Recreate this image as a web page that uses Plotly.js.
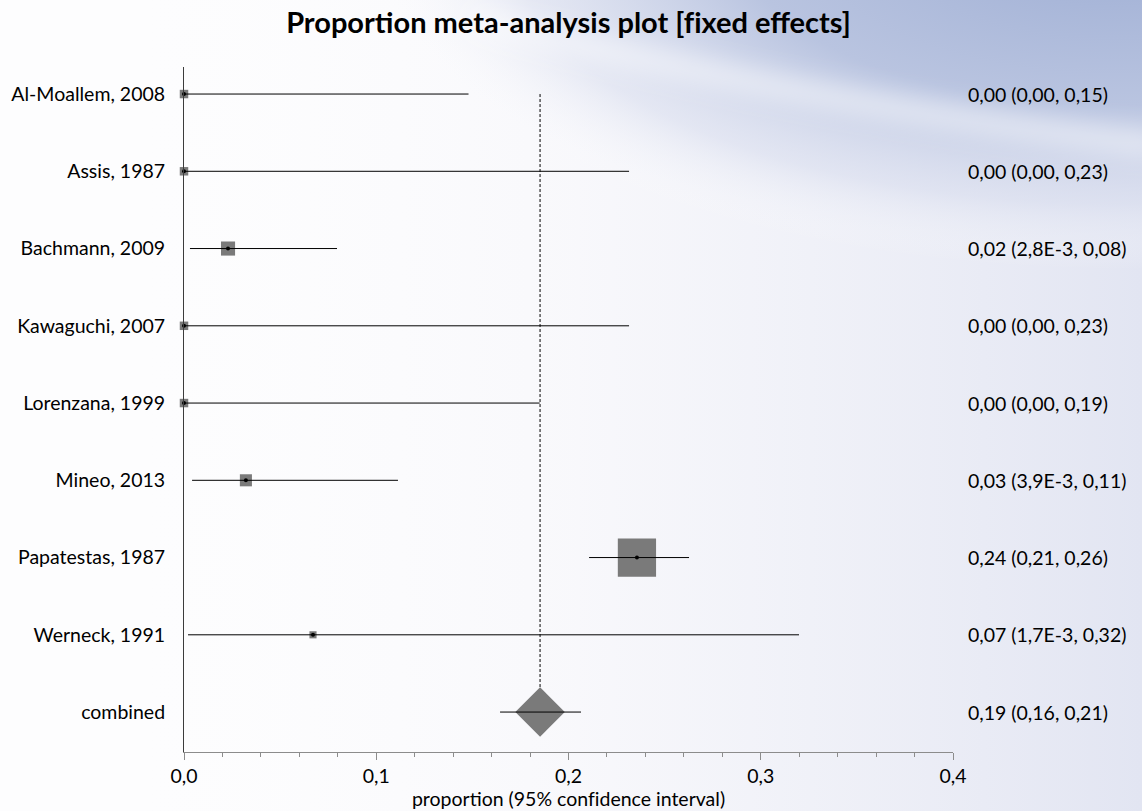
<!DOCTYPE html>
<html>
<head>
<meta charset="utf-8">
<script src="https://cdn.plot.ly/plotly-3.0.1.min.js"></script>
<style>html,body{margin:0;padding:0;background:#fff;}#chart{width:1142px;height:811px;}</style>
</head>
<body>
<div id="chart"></div>
<script>
// ---- data ----
const studies = ["Al-Moallem, 2008", "Assis, 1987", "Bachmann, 2009", "Kawaguchi, 2007",
  "Lorenzana, 1999", "Mineo, 2013", "Papatestas, 1987", "Werneck, 1991"];
const estimates = [0.0, 0.0, 0.0229, 0.0, 0.0, 0.0322, 0.2356, 0.0671];
const lower = [0.0, 0.0, 0.0031, 0.0, 0.0, 0.0042, 0.2107, 0.0021];
const upper = [0.148, 0.2315, 0.0796, 0.2315, 0.185, 0.1113, 0.2627, 0.3199];
const weights = [3.4, 3.4, 9.4, 3.4, 3.4, 6.9, 69.1, 2.4];   // relative study weights (%)
const ciLabels = ["0,00 (0,00, 0,15)", "0,00 (0,00, 0,23)", "0,02 (2,8E-3, 0,08)", "0,00 (0,00, 0,23)",
  "0,00 (0,00, 0,19)", "0,03 (3,9E-3, 0,11)", "0,24 (0,21, 0,26)", "0,07 (1,7E-3, 0,32)"];
const combinedLabel = "combined";
const combinedEst = 0.1852;
const combinedLower = 0.1644;
const combinedUpper = 0.2065;
const combinedText = "0,19 (0,16, 0,21)";
const xTicks = [0, 0.1, 0.2, 0.3, 0.4];

// ---- build ----
const n = studies.length;
const rows = studies.map((_, i) => i);
const combRow = n;
const allLabels = studies.concat([combinedLabel]);
const allRows = rows.concat([combRow]);
const allText = ciLabels.concat([combinedText]);

const FONT = "Lato, 'Open Sans', sans-serif";
const GRAY = "#7a7a7a";
const FS = 19.5;
const ZWNJ = "\u200C"; // break f-i ligatures

const boxSizes = weights.map(w => 4.6 * Math.sqrt(w));

const traces = [
  { x: [combinedEst, combinedEst], y: [0, combRow], mode: "lines", type: "scatter",
    line: { color: "#000", width: 1, dash: "3px,2px" }, hoverinfo: "skip", showlegend: false },
  { x: estimates, y: rows, mode: "markers", type: "scatter", cliponaxis: false,
    marker: { symbol: "square", size: boxSizes, color: GRAY, opacity: 1, line: { width: 0 } },
    hoverinfo: "skip", showlegend: false },
  { x: [combinedEst], y: [combRow], mode: "markers", type: "scatter", cliponaxis: false,
    marker: { symbol: "diamond", size: 38, color: GRAY, opacity: 1, line: { width: 0 } },
    hoverinfo: "skip", showlegend: false },
  { x: estimates, y: rows, mode: "markers", type: "scatter", cliponaxis: false,
    marker: { symbol: "circle", size: 4, color: "#000", opacity: 1 },
    error_x: { type: "data", symmetric: false,
      array: upper.map((u, i) => u - estimates[i]),
      arrayminus: lower.map((l, i) => estimates[i] - l),
      width: 0, thickness: 1, color: "#000" },
    hoverinfo: "skip", showlegend: false },
  { x: [combinedEst], y: [combRow], mode: "markers", type: "scatter",
    marker: { size: 0.1, color: "rgba(0,0,0,0)" },
    error_x: { type: "data", symmetric: false,
      array: [combinedUpper - combinedEst], arrayminus: [combinedEst - combinedLower],
      width: 0, thickness: 1, color: "#000" },
    hoverinfo: "skip", showlegend: false }
];

const annotations = allText.map((t, i) => ({
  xref: "paper", yref: "y", x: 1.017, y: allRows[i], text: t,
  showarrow: false, xanchor: "left", yanchor: "middle",
  font: { family: FONT, size: FS, color: "#000" }
}));

const bgSvg = `<svg xmlns='http://www.w3.org/2000/svg' width='1142' height='811'>
<defs>
<linearGradient id='h' x1='0' y1='0' x2='1' y2='0'>
<stop offset='0' stop-color='#ffffff' stop-opacity='0'/>
<stop offset='0.5' stop-color='#f7f7fb' stop-opacity='0.8'/>
<stop offset='1' stop-color='#e2e5f2' stop-opacity='1'/>
</linearGradient>
<radialGradient id='t' cx='0.5' cy='0.5' r='0.5'>
<stop offset='0' stop-color='#9eaed4'/>
<stop offset='0.5' stop-color='#b9c4e0'/>
<stop offset='0.8' stop-color='#d8ddee' stop-opacity='0.6'/>
<stop offset='1' stop-color='#ffffff' stop-opacity='0'/>
</radialGradient>
<filter id='b' x='-20%' y='-50%' width='140%' height='200%'><feGaussianBlur stdDeviation='12'/></filter>
</defs>
<rect width='1142' height='811' fill='#fdfdfe'/>
<rect width='1142' height='811' fill='url(#h)'/>
<ellipse cx='1120' cy='-60' rx='760' ry='330' fill='url(#t)'/>
<path d='M 470 20 C 650 60, 850 110, 1160 145' stroke='#ffffff' stroke-opacity='0.55' stroke-width='22' fill='none' filter='url(#b)'/>
</svg>`;
const bgUri = "data:image/svg+xml;charset=utf-8," + encodeURIComponent(bgSvg);

const layout = {
  width: 1142, height: 811,
  margin: { l: 184, r: 189, t: 67, b: 59, pad: 0 },
  paper_bgcolor: "#ffffff", plot_bgcolor: "rgba(0,0,0,0)",
  separators: ", ",
  font: { family: FONT, size: FS, color: "#000" },
  showlegend: false,
  title: { text: "<b>Proportion meta-analysis plot [f" + ZWNJ + "ixed effects]</b>",
    font: { family: FONT, size: 29, color: "#000" },
    xref: "paper", x: 0.5, xanchor: "center", yref: "container", y: 0.972, yanchor: "middle" },
  xaxis: {
    range: [0, 0.4], tickvals: xTicks, tickformat: ".1f",
    ticks: "outside", ticklen: 7, tickcolor: "#8c8c8c", tickwidth: 1,
    minor: { dtick: 0.02, tick0: 0, ticks: "outside", ticklen: 4, tickcolor: "#8c8c8c", showgrid: false },
    showline: true, linecolor: "#8c8c8c", linewidth: 1,
    showgrid: false, zeroline: false,
    tickfont: { family: FONT, size: FS, color: "#000" },
    title: { text: "proportion (95% conf" + ZWNJ + "idence interval)", font: { family: FONT, size: FS, color: "#000" }, standoff: 1 },
    fixedrange: true
  },
  yaxis: {
    range: [8.517, -0.35], tickvals: allRows, ticktext: allLabels,
    ticks: "", showline: true, linecolor: "#3c3c3c", linewidth: 1,
    showgrid: false, zeroline: false, ticklabelstandoff: 14,
    tickfont: { family: FONT, size: FS, color: "#000" },
    fixedrange: true
  },
  annotations: annotations,
  images: [{ source: bgUri, xref: "paper", yref: "paper", x: -184/769, y: 1 + 67/685,
    sizex: 1142/769, sizey: 811/685, xanchor: "left", yanchor: "top", sizing: "stretch", layer: "below" }]
};

Plotly.newPlot("chart", traces, layout, { displayModeBar: false, staticPlot: true });
</script>
</body>
</html>
